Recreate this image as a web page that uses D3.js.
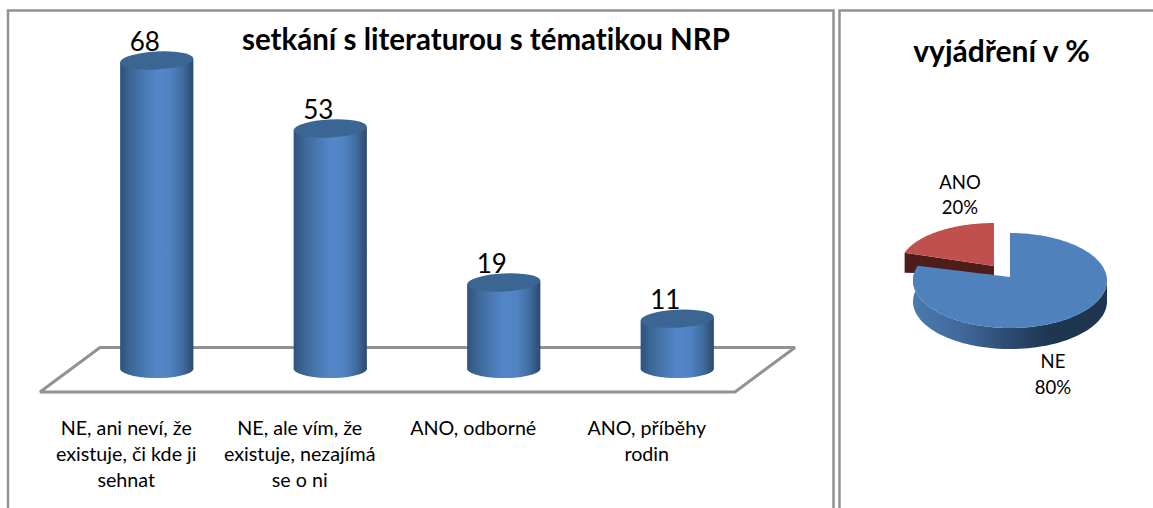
<!DOCTYPE html>
<html><head><meta charset="utf-8">
<script src="https://cdn.jsdelivr.net/npm/d3@7"></script>
<style>html,body{margin:0;padding:0;background:#fff}svg{display:block}text{font-family:Lato,"Open Sans",sans-serif;fill:#000;font-variant-ligatures:none}</style>
</head><body><svg id="c" width="1153" height="508"></svg>
<script>
const categories = [["NE, ani neví, že","existuje, či kde ji","sehnat"],["NE, ale vím, že","existuje, nezajímá","se o ni"],["ANO, odborné"],["ANO, příběhy","rodin"]];
const values = [68,53,19,11];
const barTitle = "setkání s literaturou s tématikou NRP";
const pieTitle = "vyjádření v %";
const pieNames = ["NE","ANO"];
const pieValues = [80,20];

const svg = d3.select("#c");
const defs = svg.append("defs");
function grad(id,stops){const g=defs.append("linearGradient").attr("id",id);
  stops.forEach(s=>g.append("stop").attr("offset",s[0]).attr("stop-color",s[1]));}
grad("cyl",[[0,"#2f527c"],[0.12,"#3a6492"],[0.3,"#4776ae"],[0.5,"#5487ca"],[0.68,"#5083c2"],[0.85,"#406c9f"],[1,"#2b486c"]]);
grad("wall",[[0,"#4a7aaf"],[0.25,"#41699a"],[0.5,"#2c4a6f"],[0.7,"#1f3651"],[1,"#1e344f"]]);

// frames
const grey="#929292";
svg.append("path").attr("d","M8 508V10.5H833.5V508").attr("fill","none").attr("stroke",grey).attr("stroke-width",2.5);
svg.append("path").attr("d","M839.5 508V10.5H1153").attr("fill","none").attr("stroke",grey).attr("stroke-width",2.5);

// floor
svg.append("path").attr("d","M40 392L100 347.5H795L735 392Z").attr("fill","none").attr("stroke",grey).attr("stroke-width",3).attr("stroke-linejoin","bevel");

// bars
const x = d3.scaleBand().domain(d3.range(values.length)).range([70,764]).paddingInner(0.578).paddingOuter(0.289);
const y = d3.scaleLinear().domain([0,68]).range([368.5,60.5]);
const rx = x.bandwidth()/2, ry=9.5;
values.forEach((v,i)=>{
  const cx=x(i)+rx, ty=y(v), by=y(0);
  const g=svg.append("g");
  g.append("path").attr("d",`M${cx-rx} ${ty+1.5}V${by+1}A${rx} ${ry} 0 0 0 ${cx+rx} ${by-1}V${ty-1.5}Z`).attr("fill","url(#cyl)");
  g.append("ellipse").attr("cx",cx).attr("cy",ty).attr("rx",rx).attr("ry",ry-.5)
    .attr("transform",`rotate(-3 ${cx} ${ty})`).attr("fill","#3b6592");
  svg.append("text").attr("x",cx-12).attr("y",ty-9.5).attr("text-anchor","middle").attr("font-size",26).text(v);
});
categories.forEach((lines,i)=>{
  const cx=x(i)+rx-30.5;
  lines.forEach((t,j)=>svg.append("text").attr("x",cx).attr("y",435+j*26).attr("text-anchor","middle").attr("font-size",19.7).text(t));
});

svg.append("text").attr("x",486).attr("y",50).attr("text-anchor","middle").attr("font-size",29.5).attr("font-weight",700).text(barTitle);
svg.append("text").attr("x",1001.5).attr("y",62).attr("text-anchor","middle").attr("font-size",30).attr("font-weight",700).text(pieTitle);

// pie
const arcs=d3.pie().sort(null)(pieValues);
const cxP=1010, cyP=280.5, tipY=277, rP=97, sy=47.5/97, depth=21;
const px=(a,r=rP)=>Math.sin(a)*r, py=(a,r=rP,s=sy)=>-Math.cos(a)*r*s;
const line=d3.line();
const sample=(a,b,n=80)=>d3.range(n+1).map(i=>a+(b-a)*i/n);
// red slice (exploded)
const a0=arcs[1].startAngle,a1=arcs[1].endAngle;
const rR=94, sR=43/94, redX=994, redY=266;
const red=svg.append("g").attr("transform",`translate(${redX},${redY})`);
const rl=[px(a0,rR),py(a0,rR,sR)];
red.append("path").attr("d",line([rl,[0,0],[0,9],[rl[0],rl[1]+20]])+"Z").attr("fill","#4f1d19");
red.append("path").attr("d",line([[0,0],...sample(a0,a1).map(a=>[px(a,rR),py(a,rR,sR)])])+"Z").attr("fill","#c0504d");
// blue slice with wall
const b1=arcs[0].endAngle;
const wallAngles=sample(Math.PI/2,b1);
const pie3=svg.append("g").attr("transform",`translate(${cxP},${cyP})`);
pie3.append("path").attr("d",d3.area().x(a=>px(a)).y0(a=>py(a)).y1(a=>py(a)+depth)(wallAngles)).attr("fill","url(#wall)");
pie3.append("path").attr("d",line([[0,tipY-cyP],...sample(0,b1,160).map(a=>[px(a),py(a)])])+"Z").attr("fill","#4f81bd");

const pieLabel=(t,xp,yp)=>svg.append("text").attr("x",xp).attr("y",yp).attr("text-anchor","middle").attr("font-size",18.5).text(t);
pieLabel(pieNames[1],960,189);
pieLabel(pieValues[1]+"%",960,214);
pieLabel(pieNames[0],1053,368);
pieLabel(pieValues[0]+"%",1053,394);
</script></body></html>
